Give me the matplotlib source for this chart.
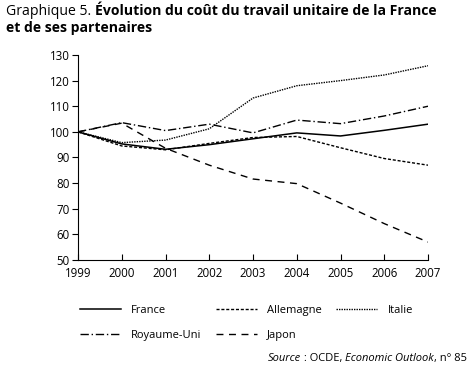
import matplotlib.pyplot as plt

plt.rcParams['font.family'] = ['Open Sans', 'DejaVu Sans']

# Données (indice 1999 = 100)
annees = [1999, 2000, 2001, 2002, 2003, 2004, 2005, 2006, 2007]
france = [100, 95.3, 93.2, 95.0, 97.3, 99.6, 98.4, 100.6, 103.0]
allemagne = [100, 94.5, 93.0, 95.5, 97.8, 98.2, 93.8, 89.6, 87.0]
italie = [100, 95.8, 96.8, 101.2, 113.2, 118.0, 120.0, 122.2, 125.8]
royaume_uni = [100, 103.6, 100.5, 103.0, 99.6, 104.6, 103.2, 106.2, 110.0]
japon = [100, 103.4, 93.6, 87.0, 81.6, 79.8, 72.2, 64.2, 57.0]

fig = plt.figure(figsize=(4.74, 3.74), dpi=100)
ax = fig.add_axes([0.1646, 0.3048, 0.7384, 0.5482])

ax.plot(annees, france, color='black', lw=1.1, ls='-', label='France')
ax.plot(annees, allemagne, color='black', lw=1.0, ls=(0, (2.2, 1.3)), label='Allemagne')
ax.plot(annees, italie, color='black', lw=1.0, ls=(0, (1, 0.8)), label='Italie')
ax.plot(annees, royaume_uni, color='black', lw=1.0, ls=(0, (6, 2, 1, 2)), label='Royaume-Uni')
ax.plot(annees, japon, color='black', lw=1.0, ls=(0, (5, 4)), label='Japon')

ax.set_xlim(1999, 2007)
ax.set_ylim(50, 130)
ax.set_xticks(annees)
ax.set_yticks(range(50, 131, 10))
ax.spines['top'].set_visible(False)
ax.spines['right'].set_visible(False)
ax.spines['left'].set_linewidth(0.8)
ax.spines['bottom'].set_linewidth(0.8)
ax.tick_params(axis='y', direction='out', length=4, width=0.8, labelsize=8.3, pad=2)
ax.tick_params(axis='x', direction='in', length=4, width=0.8, labelsize=8.3, pad=5)

renderer = fig.canvas.get_renderer()


def texte_riche(x, y, morceaux, **kw):
    # place des morceaux de texte de styles différents les uns après les autres
    for txt, style in morceaux:
        t = fig.text(x, y, txt, **style, **kw)
        bb = t.get_window_extent(renderer)
        x += bb.width / fig.bbox.width


# Titre
texte_riche(0.013, 0.988, [('Graphique 5. ', {}),
                           ('Évolution du coût du travail unitaire de la France', {'fontweight': 'bold'})],
            fontsize=10.1, va='top', ha='left')
fig.text(0.013, 0.945, 'et de ses partenaires', fontsize=10.1, fontweight='bold', va='top', ha='left')

# Légende
h, l = ax.get_legend_handles_labels()
ordre = [0, 3, 1, 4, 2]
fig.legend([h[i] for i in ordre], [l[i] for i in ordre], ncol=3,
           loc='upper left', bbox_to_anchor=(0.148, 0.212), frameon=False,
           fontsize=8, handlelength=3.7, handletextpad=0.9,
           columnspacing=1.3, labelspacing=1.25)

# Source
texte_riche(0.565, 0.028, [('Source', {'style': 'italic'}), (' : OCDE, ', {}),
                           ('Economic Outlook', {'style': 'italic'}), (', n° 85', {})],
            fontsize=8, va='bottom', ha='left')

fig.savefig('out.png', dpi=100)
